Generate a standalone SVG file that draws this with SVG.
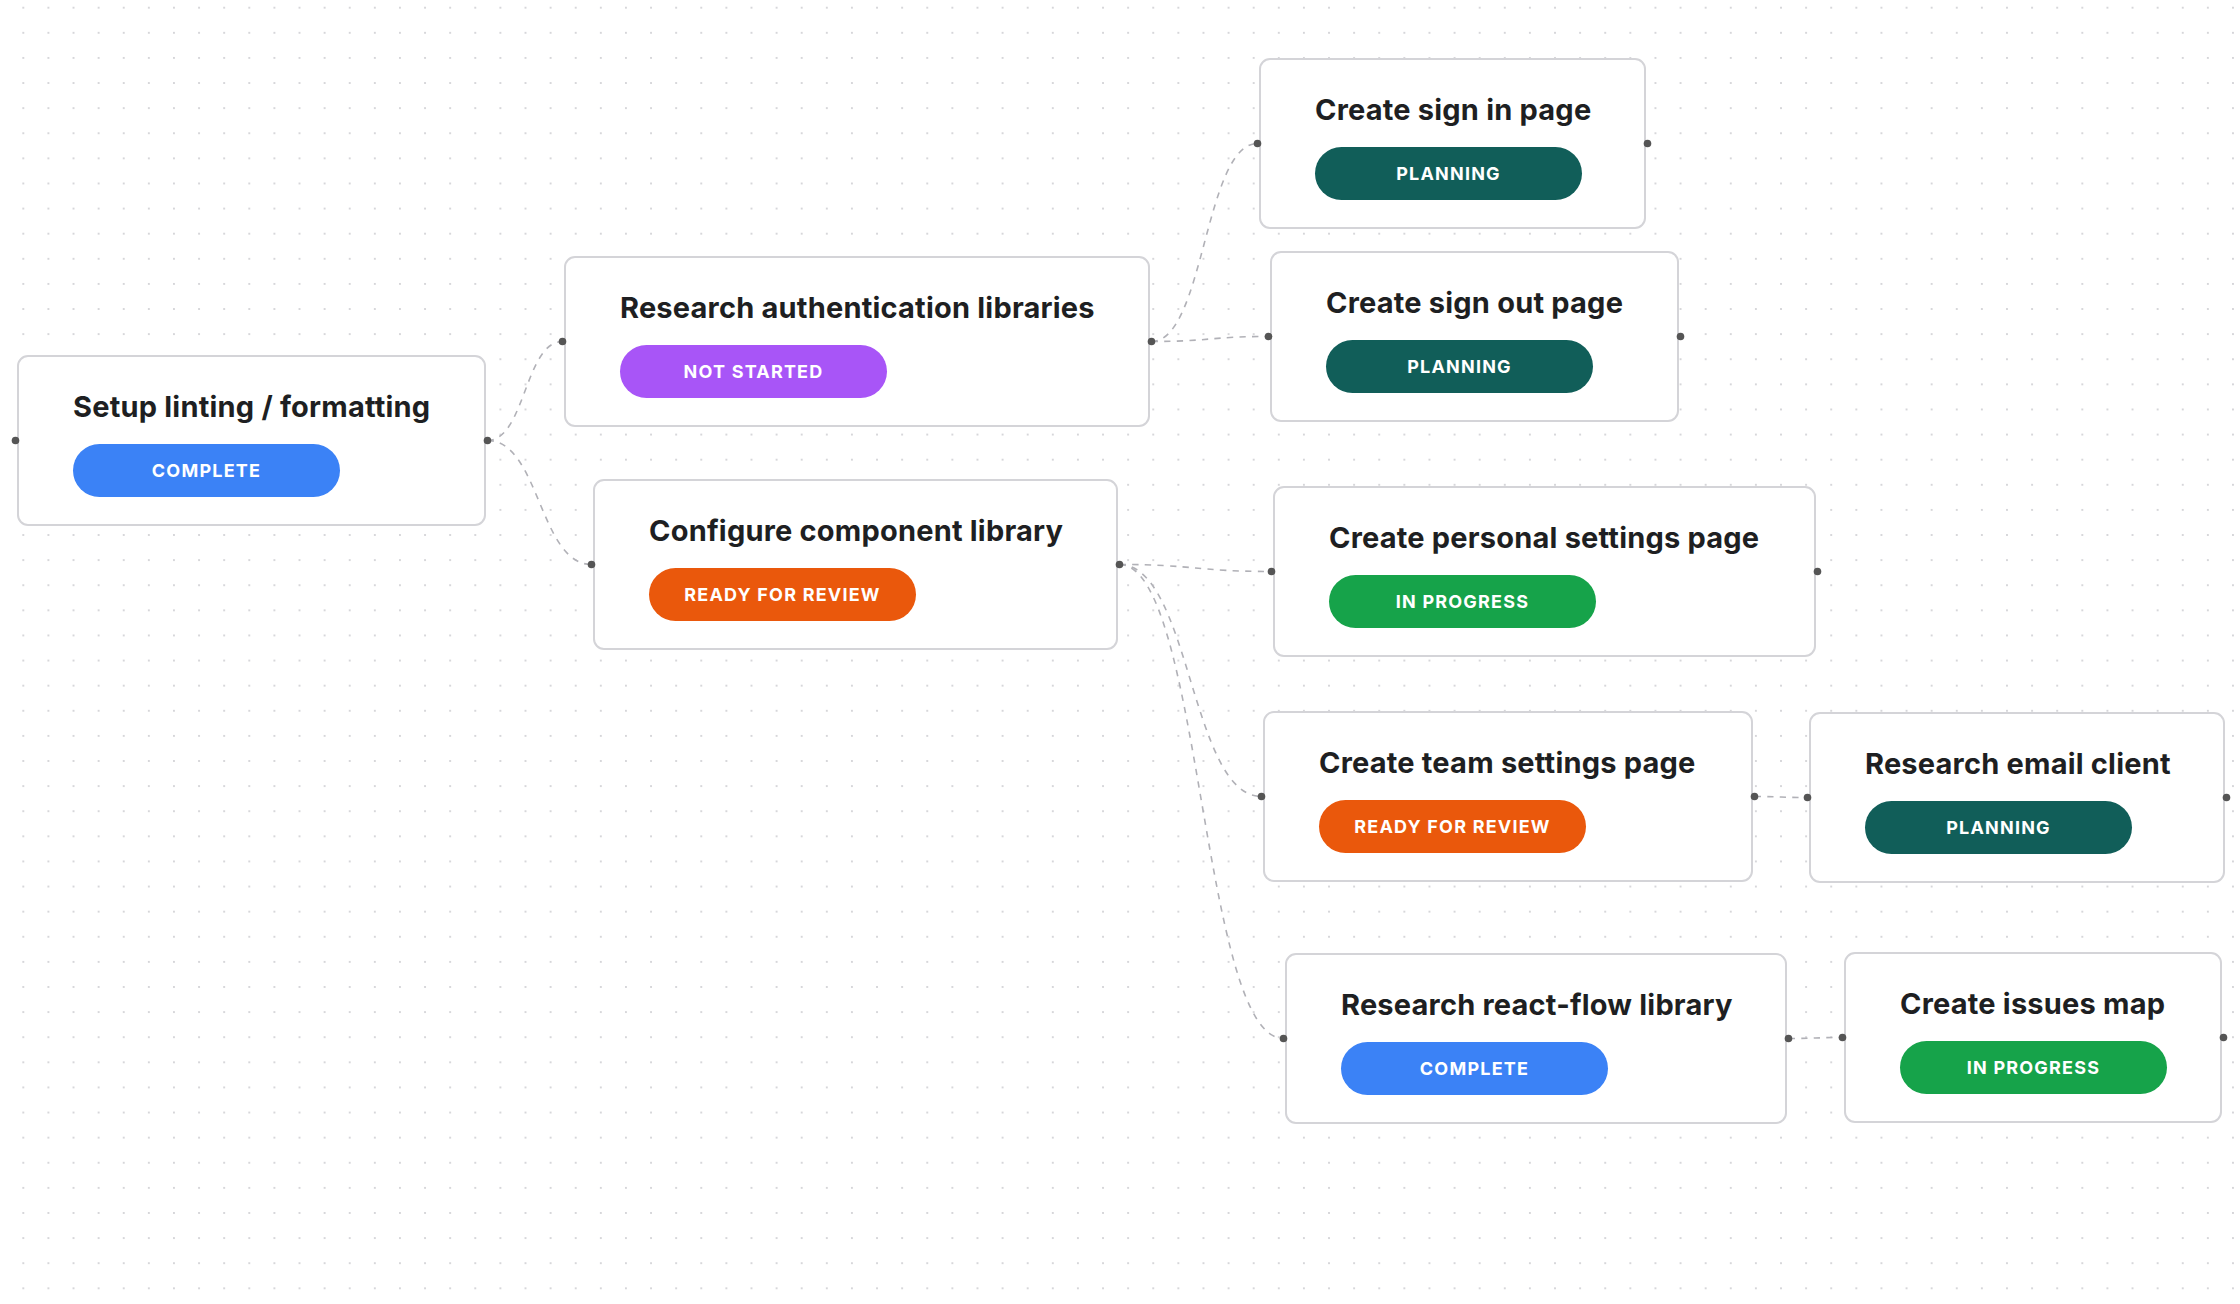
<svg xmlns="http://www.w3.org/2000/svg" width="2240" height="1304" viewBox="0 0 2240 1304">
  <defs>
    <pattern id="dots" patternUnits="userSpaceOnUse" x="10.75" y="-4.85" width="25.11" height="25.11">
      <circle cx="12.55" cy="12.55" r="0.8" fill="#a3a3aa"/>
    </pattern>
    <style>
      .box { fill: #ffffff; stroke: #d4d4d8; stroke-width: 2; }
      .title { font-family: Inter, "Liberation Sans", sans-serif; font-weight: 700; font-size: 29px; letter-spacing: 0.2px; fill: #1e1f22; }
      .badge-text { font-family: Inter, "Liberation Sans", sans-serif; font-weight: 700; font-size: 18px; letter-spacing: 1.2px; fill: #ffffff; text-anchor: middle; }
      .complete { fill: #3b82f6; }
      .notstarted { fill: #a855f7; }
      .review { fill: #ea580c; }
      .planning { fill: #115e59; }
      .progress { fill: #16a34a; }
      .handle { fill: #555555; }
      .edge { fill: none; stroke: #b1b1b7; stroke-width: 1.6; stroke-dasharray: 6.3 6.3; }
    </style>
  </defs>
  <rect width="2240" height="1304" fill="#ffffff"/>
  <rect width="2240" height="1304" fill="url(#dots)"/>

  <g id="connectors">
    <path class="edge" d="M487.5,440.5 C525,440.5 525,341.5 562.5,341.5"/>
    <path class="edge" d="M487.5,440.5 C539.5,440.5 539.5,564.5 591.5,564.5"/>
    <path class="edge" d="M1151.5,341.5 C1204.5,341.5 1204.5,143.5 1257.5,143.5"/>
    <path class="edge" d="M1151.5,341.5 C1210,341.5 1210,336.5 1268.5,336.5"/>
    <path class="edge" d="M1119.5,564.5 C1195.5,564.5 1195.5,571.5 1271.5,571.5"/>
    <path class="edge" d="M1119.5,564.5 C1190.5,564.5 1190.5,796.5 1261.5,796.5"/>
    <path class="edge" d="M1119.5,564.5 C1201.5,564.5 1201.5,1038.5 1283.5,1038.5"/>
    <path class="edge" d="M1754.5,796.5 C1781,796.5 1781,797.5 1807.5,797.5"/>
    <path class="edge" d="M1788.5,1038.5 C1815.5,1038.5 1815.5,1037.5 1842.5,1037.5"/>
  </g>

  <g id="node-setup-linting">
    <rect class="box" x="18" y="356" width="467" height="169" rx="10"/>
    <text class="title" x="73" y="417">Setup linting / formatting</text>
    <rect class="complete" x="73" y="444" width="267" height="53" rx="26.5"/>
    <text class="badge-text" x="206.5" y="477">COMPLETE</text>
    <circle class="handle" cx="15.5" cy="440.5" r="3.8"/>
    <circle class="handle" cx="487.5" cy="440.5" r="3.8"/>
  </g>

  <g id="node-research-auth">
    <rect class="box" x="565" y="257" width="584" height="169" rx="10"/>
    <text class="title" x="620" y="318">Research authentication libraries</text>
    <rect class="notstarted" x="620" y="345" width="267" height="53" rx="26.5"/>
    <text class="badge-text" x="753.5" y="378">NOT STARTED</text>
    <circle class="handle" cx="562.5" cy="341.5" r="3.8"/>
    <circle class="handle" cx="1151.5" cy="341.5" r="3.8"/>
  </g>

  <g id="node-configure-component">
    <rect class="box" x="594" y="480" width="523" height="169" rx="10"/>
    <text class="title" x="649" y="541">Configure component library</text>
    <rect class="review" x="649" y="568" width="267" height="53" rx="26.5"/>
    <text class="badge-text" x="782.5" y="601">READY FOR REVIEW</text>
    <circle class="handle" cx="591.5" cy="564.5" r="3.8"/>
    <circle class="handle" cx="1119.5" cy="564.5" r="3.8"/>
  </g>

  <g id="node-sign-in">
    <rect class="box" x="1260" y="59" width="385" height="169" rx="10"/>
    <text class="title" x="1315" y="120">Create sign in page</text>
    <rect class="planning" x="1315" y="147" width="267" height="53" rx="26.5"/>
    <text class="badge-text" x="1448.5" y="180">PLANNING</text>
    <circle class="handle" cx="1257.5" cy="143.5" r="3.8"/>
    <circle class="handle" cx="1647.5" cy="143.5" r="3.8"/>
  </g>

  <g id="node-sign-out">
    <rect class="box" x="1271" y="252" width="407" height="169" rx="10"/>
    <text class="title" x="1326" y="313">Create sign out page</text>
    <rect class="planning" x="1326" y="340" width="267" height="53" rx="26.5"/>
    <text class="badge-text" x="1459.5" y="373">PLANNING</text>
    <circle class="handle" cx="1268.5" cy="336.5" r="3.8"/>
    <circle class="handle" cx="1680.5" cy="336.5" r="3.8"/>
  </g>

  <g id="node-personal-settings">
    <rect class="box" x="1274" y="487" width="541" height="169" rx="10"/>
    <text class="title" x="1329" y="548">Create personal settings page</text>
    <rect class="progress" x="1329" y="575" width="267" height="53" rx="26.5"/>
    <text class="badge-text" x="1462.5" y="608">IN PROGRESS</text>
    <circle class="handle" cx="1271.5" cy="571.5" r="3.8"/>
    <circle class="handle" cx="1817.5" cy="571.5" r="3.8"/>
  </g>

  <g id="node-team-settings">
    <rect class="box" x="1264" y="712" width="488" height="169" rx="10"/>
    <text class="title" x="1319" y="773">Create team settings page</text>
    <rect class="review" x="1319" y="800" width="267" height="53" rx="26.5"/>
    <text class="badge-text" x="1452.5" y="833">READY FOR REVIEW</text>
    <circle class="handle" cx="1261.5" cy="796.5" r="3.8"/>
    <circle class="handle" cx="1754.5" cy="796.5" r="3.8"/>
  </g>

  <g id="node-email-client">
    <rect class="box" x="1810" y="713" width="414" height="169" rx="10"/>
    <text class="title" x="1865" y="774">Research email client</text>
    <rect class="planning" x="1865" y="801" width="267" height="53" rx="26.5"/>
    <text class="badge-text" x="1998.5" y="834">PLANNING</text>
    <circle class="handle" cx="1807.5" cy="797.5" r="3.8"/>
    <circle class="handle" cx="2226.5" cy="797.5" r="3.8"/>
  </g>

  <g id="node-react-flow">
    <rect class="box" x="1286" y="954" width="500" height="169" rx="10"/>
    <text class="title" x="1341" y="1015">Research react-flow library</text>
    <rect class="complete" x="1341" y="1042" width="267" height="53" rx="26.5"/>
    <text class="badge-text" x="1474.5" y="1075">COMPLETE</text>
    <circle class="handle" cx="1283.5" cy="1038.5" r="3.8"/>
    <circle class="handle" cx="1788.5" cy="1038.5" r="3.8"/>
  </g>

  <g id="node-issues-map">
    <rect class="box" x="1845" y="953" width="376" height="169" rx="10"/>
    <text class="title" x="1900" y="1014">Create issues map</text>
    <rect class="progress" x="1900" y="1041" width="267" height="53" rx="26.5"/>
    <text class="badge-text" x="2033.5" y="1074">IN PROGRESS</text>
    <circle class="handle" cx="1842.5" cy="1037.5" r="3.8"/>
    <circle class="handle" cx="2223.5" cy="1037.5" r="3.8"/>
  </g>
</svg>
